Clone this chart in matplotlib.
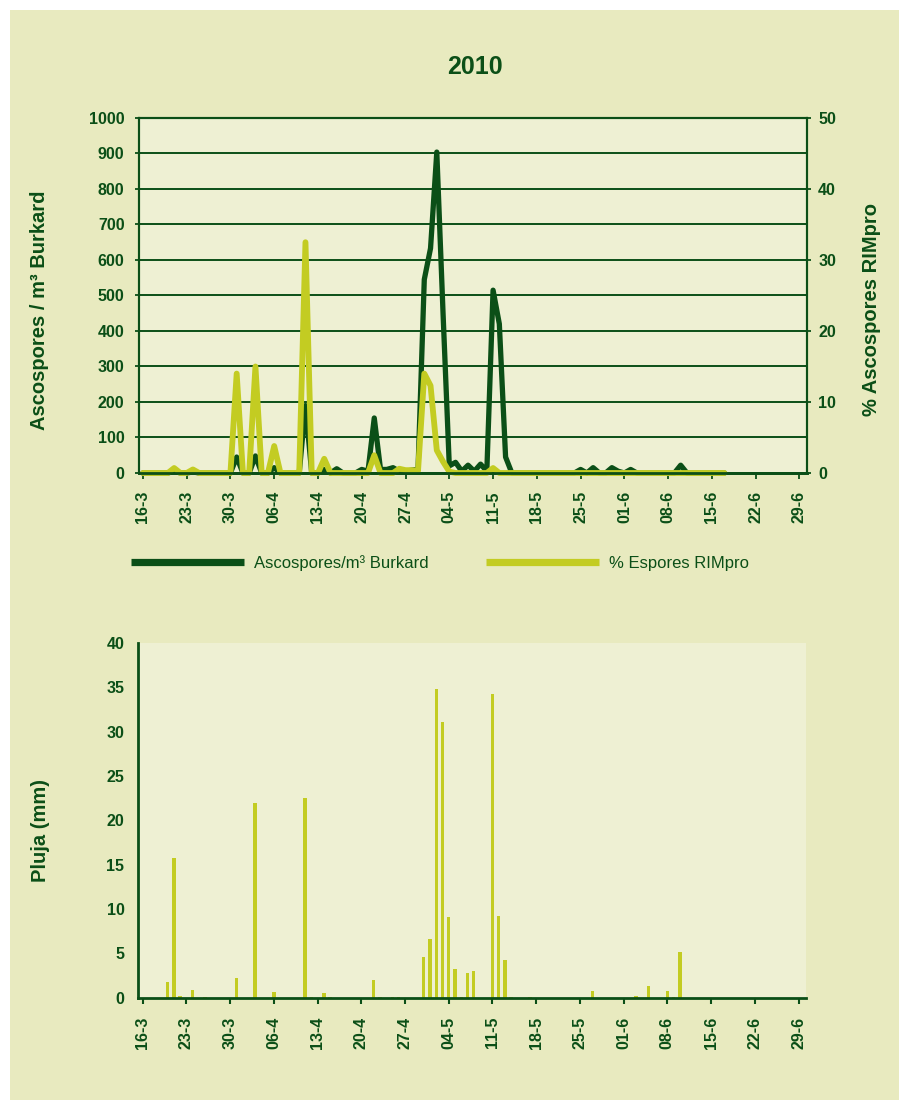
import numpy as np
import pandas as pd
import matplotlib
matplotlib.use('Agg')
import matplotlib.pyplot as plt
from matplotlib.lines import Line2D
from matplotlib.patches import Rectangle

plt.rcParams['font.family'] = ['Liberation Sans', 'DejaVu Sans']

#----------------------------------------------------------------- DADES -----------------------------------------------------------------
inici = '2010-03-16'

# ascospores/m3 Burkard, un valor per dia des del 16-3
burkard = [0, 0, 0, 0, 0, 5, 0, 0, 3, 0,
           0, 0, 0, 0, 0, 45, 0, 0, 48, 0,
           0, 15, 0, 0, 0, 0, 190, 0, 0, 10,
           0, 12, 0, 0, 0, 10, 5, 155, 10, 10,
           15, 5, 5, 8, 10, 545, 633, 904, 450, 20,
           30, 5, 22, 5, 25, 5, 515, 420, 45, 0,
           0, 0, 0, 0, 0, 0, 0, 0, 0, 0,
           10, 0, 15, 0, 0, 15, 5, 0, 10, 0,
           0, 0, 0, 0, 0, 0, 22, 0, 0, 0,
           0, 0, 0, 0]

# % espores RIMpro
rimpro = [0, 0, 0, 0, 0, 0.7, 0, 0, 0.5, 0,
          0, 0, 0, 0, 0, 14, 0, 0, 15, 0,
          0, 3.8, 0, 0, 0, 0, 32.5, 0, 0, 2,
          0, 0, 0, 0, 0, 0, 0, 2.5, 0, 0,
          0, 0.6, 0.4, 0.4, 0.3, 14, 12.3, 3.2, 1.6, 0.2,
          0, 0, 0, 0, 0, 0, 0.7, 0, 0, 0,
          0, 0, 0, 0, 0, 0, 0, 0, 0, 0,
          0, 0, 0, 0, 0, 0, 0, 0, 0, 0,
          0, 0, 0, 0, 0, 0, 0, 0, 0, 0,
          0, 0, 0, 0]

# pluja (mm)
pluja_dies = ['20-3', '21-3', '22-3', '24-3', '26-3', '31-3', '3-4', '6-4', '11-4', '12-4',
              '14-4', '15-4', '22-4', '23-4', '25-4', '26-4', '30-4', '1-5', '2-5', '3-5',
              '4-5', '5-5', '6-5', '7-5', '8-5', '11-5', '12-5', '13-5', '14-5', '17-5',
              '27-5', '3-6', '5-6', '8-6', '9-6', '10-6']
pluja_mm = [1.8, 15.7, 0.2, 0.9, 0.1, 2.2, 22.0, 0.6, 22.5, 0.1,
            0.5, 0.1, 2.0, 0.1, 0.1, 0.1, 4.6, 6.6, 34.8, 31.1,
            9.1, 3.2, 0.1, 2.8, 3.0, 34.2, 9.2, 4.3, 0.1, 0.1,
            0.75, 0.2, 1.3, 0.75, 0.1, 5.1]

etiquetes = ['16-3', '23-3', '30-3', '06-4', '13-4', '20-4', '27-4', '04-5',
             '11-5', '18-5', '25-5', '01-6', '08-6', '15-6', '22-6', '29-6']

#----------------------------------------------------------------- ESTIL -----------------------------------------------------------------
VERD = '#0b4f17'
GROC = '#c3cc22'
FONS = '#e8eabf'
FONS_AX = '#eef0d3'

dies = np.arange(len(burkard))
dates_pluja = pd.to_datetime([d + '-2010' for d in pluja_dies], format='%d-%m-%Y')
dies_pluja = (dates_pluja - pd.Timestamp(inici)).days
ticks = np.arange(0, 7 * len(etiquetes), 7)
xmin, xmax = -0.7, 106.2

fig = plt.figure(figsize=(8.99, 11), dpi=100, facecolor='white')
fig.patches.append(Rectangle((10 / 899, 0), 1, 1 - 10 / 1100, transform=fig.transFigure,
                             facecolor=FONS, edgecolor='none', zorder=-10))

#----------------------------------------------------------------- GRAFIC 1 -----------------------------------------------------------------
ax1 = fig.add_axes([138.5 / 899, 1 - 473 / 1100, 668.5 / 899, 355 / 1100])
ax1.set_facecolor(FONS_AX)
ax1.plot(dies, burkard, color=VERD, lw=3.8, solid_joinstyle='round', solid_capstyle='round', clip_on=False)
ax1.set_ylim(0, 1000)
ax1.set_yticks(range(0, 1001, 100))
ax1.set_xlim(xmin, xmax)
ax1.set_xticks(ticks)
ax1.set_xticklabels(etiquetes, rotation=90)
ax1.yaxis.grid(True, color=VERD, lw=1.4)
ax1.set_axisbelow(True)
for s in ax1.spines.values():
    s.set_color(VERD)
    s.set_linewidth(1.5)
ax1.spines['bottom'].set_linewidth(2)
ax1.tick_params(axis='y', direction='out', length=3, width=1.3, color=VERD, pad=7,
                labelsize=11.5, labelcolor=VERD)
ax1.tick_params(axis='x', direction='out', length=4, width=1.3, color=VERD, pad=9,
                labelsize=11.5, labelcolor=VERD)
for t in ax1.get_yticklabels() + ax1.get_xticklabels():
    t.set_fontweight('bold')

ax2 = ax1.twinx()
ax2.plot(dies, rimpro, color=GROC, lw=4.2, solid_joinstyle='round', solid_capstyle='round', clip_on=False)
ax2.set_ylim(0, 50)
ax2.set_yticks(range(0, 51, 10))
for s in ax2.spines.values():
    s.set_color(VERD)
    s.set_linewidth(1.5)
ax2.spines['bottom'].set_linewidth(2)
ax2.tick_params(axis='y', direction='out', length=3, width=1.3, color=VERD, pad=5,
                labelsize=11.5, labelcolor=VERD)
for t in ax2.get_yticklabels():
    t.set_fontweight('bold')

fig.text(0.528, 1 - 67 / 1100, '2010', fontsize=18, fontweight='bold', color=VERD,
         ha='center', va='center')
fig.text(40 / 899, 1 - 310 / 1100, 'Ascospores / m³ Burkard', rotation=90, fontsize=14.5,
         fontweight='bold', color=VERD, ha='center', va='center')
fig.text(871.5 / 899, 1 - 310 / 1100, '% Ascospores RIMpro', rotation=90, fontsize=14.5,
         fontweight='bold', color=VERD, ha='center', va='center')

handles = [Line2D([], [], color=VERD, lw=5.2, solid_capstyle='butt'),
           Line2D([], [], color=GROC, lw=5.2, solid_capstyle='butt')]
fig.legend(handles, ['Ascospores/m³ Burkard', '% Espores RIMpro'], loc='center left',
           bbox_to_anchor=(131 / 899, 1 - 562.7 / 1100), ncol=2, frameon=False, fontsize=12,
           handlelength=6.8, handletextpad=0.6, columnspacing=3.4, borderpad=0,
           borderaxespad=0, labelcolor=VERD)

#----------------------------------------------------------------- GRAFIC 2 -----------------------------------------------------------------
ax3 = fig.add_axes([138.3 / 899, 1 - 997.7 / 1100, 667.7 / 899, 354.7 / 1100])
ax3.set_facecolor(FONS_AX)
ax3.bar(dies_pluja, pluja_mm, width=0.55, color=GROC, linewidth=0)
ax3.set_ylim(0, 40)
ax3.set_yticks(range(0, 41, 5))
ax3.set_xlim(xmin, xmax)
ax3.set_xticks(ticks)
ax3.set_xticklabels(etiquetes, rotation=90)
ax3.spines['top'].set_visible(False)
ax3.spines['right'].set_visible(False)
for s in ['left', 'bottom']:
    ax3.spines[s].set_color(VERD)
    ax3.spines[s].set_linewidth(2)
ax3.tick_params(axis='y', length=0, pad=10, labelsize=11.5, labelcolor=VERD)
ax3.tick_params(axis='x', direction='out', length=4.5, width=1.5, color=VERD, pad=9,
                labelsize=11.5, labelcolor=VERD)
for t in ax3.get_yticklabels() + ax3.get_xticklabels():
    t.set_fontweight('bold')

fig.text(40 / 899, 1 - 830 / 1100, 'Pluja (mm)', rotation=90, fontsize=14.5,
         fontweight='bold', color=VERD, ha='center', va='center')

fig.savefig('out.png', dpi=100, facecolor=fig.get_facecolor())
